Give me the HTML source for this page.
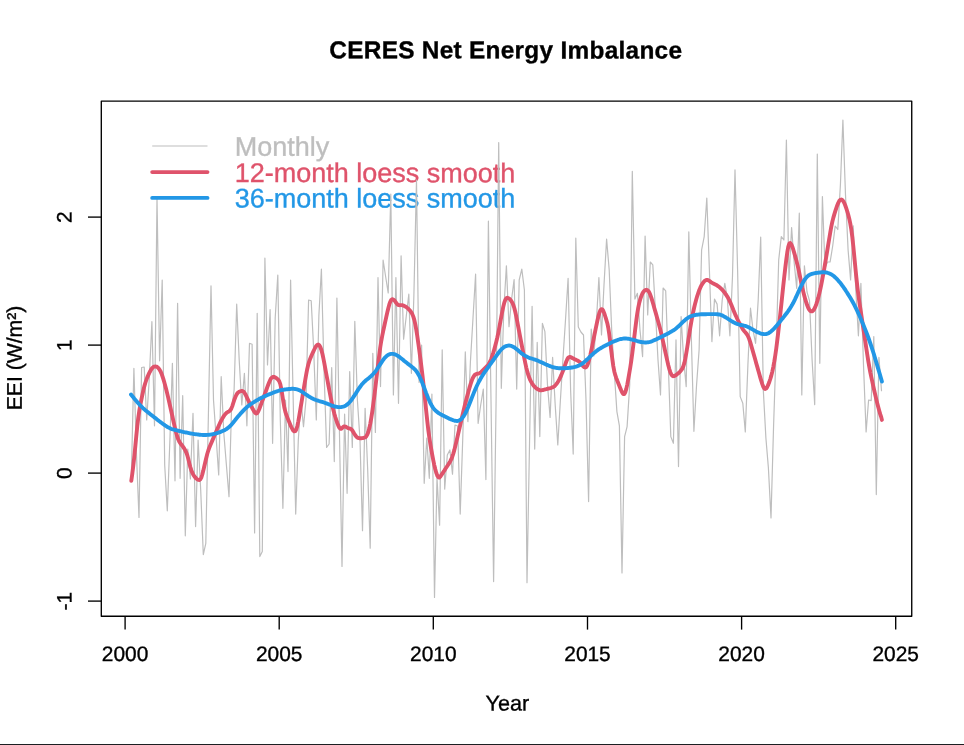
<!DOCTYPE html>
<html lang="en"><head><meta charset="utf-8"><title>CERES Net Energy Imbalance</title>
<style>
html,body{margin:0;padding:0;background:#fff;}
body{width:964px;height:745px;overflow:hidden;}
svg{display:block;will-change:transform;}
text{font-family:"Liberation Sans",Arial,Helvetica,sans-serif;fill:#000;stroke:#000;stroke-width:0.35px;}
.ax{font-size:20.9px;}
.ttl{font-size:24.4px;font-weight:bold;letter-spacing:0.28px;}
.lg{font-size:27.0px;}
</style></head><body>
<svg width="964" height="745" viewBox="0 0 964 745">
<rect x="0" y="0" width="964" height="745" fill="#fff"/>

<g id="legend">
<text class="lg" transform="translate(234.7,155.8) rotate(0.04)" text-anchor="start" style="fill:#bebebe;stroke:#bebebe">Monthly</text>
<text class="lg" transform="translate(234.7,182.0) rotate(0.04)" text-anchor="start" style="fill:#df536b;stroke:#df536b">12-month loess smooth</text>
<text class="lg" transform="translate(234.7,207.4) rotate(0.04)" text-anchor="start" style="fill:#2297e6;stroke:#2297e6">36-month loess smooth</text>
</g>
<path d="M131.3,478.0 L133.9,368.3 L136.5,455.0 L139.0,517.5 L141.6,367.5 L144.2,367.0 L146.7,420.0 L149.3,378.0 L151.9,321.7 L154.5,425.8 L157.0,198.0 L159.6,360.8 L162.2,280.0 L164.7,465.0 L167.3,510.8 L169.9,440.0 L172.4,363.3 L175.0,480.8 L177.6,303.3 L180.1,478.3 L182.7,395.7 L185.3,535.8 L187.8,449.0 L190.4,479.0 L193.0,413.3 L195.6,526.6 L198.1,440.0 L200.7,490.0 L203.3,554.6 L205.8,543.3 L208.4,415.0 L211.0,285.8 L213.5,400.0 L216.1,437.0 L218.7,475.0 L221.2,376.7 L223.8,433.0 L226.4,465.0 L229.0,496.7 L231.5,410.0 L234.1,390.0 L236.7,304.2 L239.2,360.0 L241.8,405.0 L244.4,373.3 L246.9,425.8 L249.5,343.3 L252.1,344.2 L254.6,533.0 L257.2,313.3 L259.8,556.6 L262.3,551.6 L264.9,258.0 L267.5,365.0 L270.1,309.5 L272.6,443.3 L275.2,318.0 L277.8,275.0 L280.3,420.0 L282.9,508.3 L285.5,400.0 L288.0,471.6 L290.6,280.0 L293.2,400.0 L295.7,514.1 L298.3,440.0 L300.9,400.0 L303.5,426.6 L306.0,400.0 L308.6,300.0 L311.2,300.8 L313.7,350.0 L316.3,420.0 L318.9,315.0 L321.4,269.2 L324.0,370.0 L326.6,447.5 L329.1,444.0 L331.7,367.5 L334.3,461.6 L336.9,298.0 L339.4,430.0 L342.0,566.5 L344.6,414.1 L347.1,493.3 L349.7,371.6 L352.3,447.5 L354.8,321.3 L357.4,400.0 L360.0,440.0 L362.5,530.7 L365.1,408.3 L367.7,470.0 L370.2,548.2 L372.8,353.3 L375.4,432.4 L378.0,277.5 L380.5,386.6 L383.1,260.0 L385.7,277.0 L388.2,293.0 L390.8,194.0 L393.4,395.0 L395.9,277.5 L398.5,403.3 L401.1,255.8 L403.6,339.2 L406.2,316.7 L408.8,294.2 L411.4,373.3 L413.9,295.0 L416.5,180.0 L419.1,382.5 L421.6,345.0 L424.2,483.3 L426.8,438.0 L429.3,478.3 L431.9,394.1 L434.5,597.4 L437.0,478.0 L439.6,525.2 L442.2,349.9 L444.7,489.1 L447.3,455.0 L449.9,450.0 L452.5,474.1 L455.0,425.0 L457.6,426.0 L460.2,514.1 L462.7,440.0 L465.3,351.9 L467.9,421.6 L470.4,362.0 L473.0,318.0 L475.6,274.1 L478.1,423.3 L480.7,405.0 L483.3,389.1 L485.9,479.6 L488.4,221.2 L491.0,400.0 L493.6,581.6 L496.1,400.0 L498.7,142.5 L501.3,388.3 L503.8,310.0 L506.4,265.8 L509.0,326.6 L511.5,300.0 L514.1,279.6 L516.7,389.1 L519.2,280.0 L521.8,269.1 L524.4,290.0 L527.0,582.7 L529.5,445.0 L532.1,306.3 L534.7,449.1 L537.2,342.4 L539.8,436.6 L542.4,323.3 L544.9,331.6 L547.5,385.0 L550.1,417.4 L552.6,357.4 L555.2,405.0 L557.8,444.9 L560.4,400.0 L562.9,360.0 L565.5,320.0 L568.1,278.3 L570.6,390.0 L573.2,454.1 L575.8,238.2 L578.3,327.0 L580.9,332.0 L583.5,335.0 L586.0,400.0 L588.6,501.6 L591.2,329.1 L593.8,356.0 L596.3,323.0 L598.9,277.5 L601.5,335.0 L604.0,285.0 L606.6,239.1 L609.2,270.0 L611.7,330.0 L614.3,372.0 L616.9,411.6 L619.4,425.8 L622.0,572.9 L624.6,436.6 L627.1,426.6 L629.7,385.0 L632.3,171.3 L634.9,299.1 L637.4,293.3 L640.0,330.0 L642.6,356.6 L645.1,236.1 L647.7,314.9 L650.3,262.0 L652.8,264.9 L655.4,310.0 L658.0,360.0 L660.5,395.0 L663.1,288.0 L665.7,290.8 L668.3,365.0 L670.8,436.6 L673.4,443.3 L676.0,339.9 L678.5,466.6 L681.1,316.6 L683.7,360.0 L686.2,386.6 L688.8,231.9 L691.4,340.0 L693.9,431.3 L696.5,386.0 L699.1,350.0 L701.6,250.0 L704.2,236.6 L706.8,198.0 L709.4,270.0 L711.9,341.6 L714.5,299.1 L717.1,304.1 L719.6,335.8 L722.2,300.0 L724.8,283.3 L727.3,298.0 L729.9,335.8 L732.5,276.0 L735.0,169.9 L737.6,270.0 L740.2,396.6 L742.8,403.3 L745.3,431.9 L747.9,365.0 L750.5,308.2 L753.0,330.0 L755.6,343.3 L758.2,300.0 L760.7,237.1 L763.3,390.0 L765.9,438.0 L768.4,468.0 L771.0,517.9 L773.6,425.0 L776.1,350.0 L778.7,260.0 L781.3,236.6 L783.9,240.0 L786.4,140.0 L789.0,279.9 L791.6,227.5 L794.1,262.0 L796.7,288.3 L799.3,213.2 L801.8,394.9 L804.4,265.8 L807.0,292.0 L809.5,300.7 L812.1,360.0 L814.7,404.6 L817.3,154.1 L819.8,363.3 L822.4,196.6 L825.0,268.0 L827.5,262.0 L830.1,262.0 L832.7,246.0 L835.2,226.0 L837.8,229.5 L840.4,185.0 L842.9,120.0 L845.5,195.0 L848.1,250.0 L850.6,279.9 L853.2,225.8 L855.8,290.0 L858.4,335.8 L860.9,283.3 L863.5,365.0 L866.1,431.9 L868.6,400.0 L871.2,400.7 L873.8,336.6 L876.3,494.6 L878.9,357.4 L881.5,390.7" fill="none" stroke="#bebebe" stroke-width="1.2" stroke-linejoin="round" stroke-linecap="round"/>
<line x1="152.2" y1="146" x2="207.5" y2="146" stroke="#bebebe" stroke-width="1.15"/>
<line x1="152.2" y1="172.1" x2="207.5" y2="172.1" stroke="#df536b" stroke-width="3.9" stroke-linecap="round"/>
<line x1="152.2" y1="197.9" x2="207.5" y2="197.9" stroke="#2297e6" stroke-width="3.9" stroke-linecap="round"/>
<path d="M131.3,480.8 L132.3,473.7 L133.3,465.7 L134.3,456.5 L135.3,446.5 L136.3,436.0 L137.3,426.0 L138.3,417.5 L139.3,410.7 L140.3,405.1 L141.3,400.0 L142.3,395.1 L143.3,390.5 L144.3,386.4 L145.3,383.0 L146.3,380.0 L147.3,377.4 L148.3,375.1 L149.3,372.9 L150.3,371.0 L151.3,369.3 L152.3,368.0 L153.3,367.1 L154.3,366.6 L155.3,366.5 L156.3,366.6 L157.3,367.1 L158.3,368.0 L159.3,369.2 L160.3,370.9 L161.3,373.1 L162.3,375.8 L163.3,378.9 L164.3,382.3 L165.3,386.0 L166.3,389.8 L167.3,393.9 L168.3,398.1 L169.3,402.5 L170.3,407.0 L171.3,411.5 L172.3,416.0 L173.3,420.6 L174.3,425.1 L175.3,429.4 L176.3,433.3 L177.3,436.8 L178.3,439.5 L179.3,441.6 L180.3,443.2 L181.3,444.5 L182.3,445.8 L183.3,447.1 L184.3,448.6 L185.3,450.4 L186.3,452.6 L187.3,455.3 L188.3,459.0 L189.3,463.1 L190.3,467.0 L191.3,470.2 L192.3,472.7 L193.3,474.7 L194.3,476.3 L195.3,477.5 L196.3,478.5 L197.3,479.3 L198.3,479.9 L199.3,480.0 L200.3,479.4 L201.3,477.6 L202.3,474.5 L203.3,470.6 L204.3,466.3 L205.3,462.0 L206.3,457.7 L207.3,453.8 L208.3,450.5 L209.3,447.7 L210.3,445.3 L211.3,442.9 L212.3,440.6 L213.3,438.3 L214.3,436.0 L215.3,433.7 L216.3,431.3 L217.3,429.0 L218.3,426.8 L219.3,424.5 L220.3,422.4 L221.3,420.4 L222.3,418.6 L223.3,416.9 L224.3,415.4 L225.3,414.1 L226.3,413.1 L227.3,412.3 L228.3,411.7 L229.3,411.2 L230.3,410.2 L231.3,408.6 L232.3,406.1 L233.3,403.0 L234.3,399.9 L235.3,397.2 L236.3,395.0 L237.3,393.4 L238.3,392.3 L239.3,391.7 L240.3,391.3 L241.3,391.0 L242.3,390.9 L243.3,391.4 L244.3,392.5 L245.3,394.2 L246.3,396.2 L247.3,398.3 L248.3,400.4 L249.3,402.5 L250.3,404.5 L251.3,406.4 L252.3,408.2 L253.3,410.0 L254.3,411.7 L255.3,413.0 L256.3,413.5 L257.3,413.0 L258.3,411.3 L259.3,409.0 L260.3,406.3 L261.3,403.6 L262.3,400.9 L263.3,398.2 L264.3,395.5 L265.3,392.8 L266.3,390.0 L267.3,387.2 L268.3,384.5 L269.3,382.0 L270.3,379.8 L271.3,378.1 L272.3,377.2 L273.3,376.8 L274.3,377.0 L275.3,377.5 L276.3,378.1 L277.3,378.9 L278.3,379.9 L279.3,381.4 L280.3,384.1 L281.3,388.8 L282.3,395.0 L283.3,401.5 L284.3,407.2 L285.3,411.6 L286.3,414.8 L287.3,417.4 L288.3,419.9 L289.3,422.3 L290.3,424.7 L291.3,427.0 L292.3,429.0 L293.3,430.6 L294.3,431.3 L295.3,431.1 L296.3,429.5 L297.3,426.2 L298.3,421.3 L299.3,415.6 L300.3,409.6 L301.3,403.6 L302.3,397.5 L303.3,391.5 L304.3,385.4 L305.3,379.5 L306.3,373.9 L307.3,368.7 L308.3,364.5 L309.3,361.1 L310.3,358.4 L311.3,356.0 L312.3,353.8 L313.3,351.6 L314.3,349.5 L315.3,347.5 L316.3,345.8 L317.3,344.8 L318.3,344.5 L319.3,345.3 L320.3,347.0 L321.3,349.7 L322.3,353.4 L323.3,358.0 L324.3,363.2 L325.3,368.6 L326.3,374.0 L327.3,379.4 L328.3,384.9 L329.3,390.2 L330.3,395.5 L331.3,400.7 L332.3,405.5 L333.3,409.8 L334.3,413.6 L335.3,417.0 L336.3,420.1 L337.3,423.0 L338.3,425.6 L339.3,427.7 L340.3,428.8 L341.3,428.7 L342.3,427.8 L343.3,426.8 L344.3,426.4 L345.3,426.6 L346.3,427.1 L347.3,427.7 L348.3,428.1 L349.3,428.4 L350.3,428.8 L351.3,429.3 L352.3,430.4 L353.3,432.0 L354.3,433.7 L355.3,435.3 L356.3,436.6 L357.3,437.5 L358.3,438.0 L359.3,438.2 L360.3,438.2 L361.3,438.2 L362.3,438.1 L363.3,438.0 L364.3,437.7 L365.3,437.3 L366.3,436.3 L367.3,434.6 L368.3,432.0 L369.3,428.3 L370.3,423.6 L371.3,417.9 L372.3,411.4 L373.3,404.1 L374.3,396.2 L375.3,387.9 L376.3,379.4 L377.3,371.1 L378.3,362.7 L379.3,354.5 L380.3,347.0 L381.3,340.8 L382.3,335.5 L383.3,330.7 L384.3,326.0 L385.3,321.4 L386.3,316.8 L387.3,312.4 L388.3,308.2 L389.3,304.4 L390.3,301.6 L391.3,299.8 L392.3,299.2 L393.3,299.5 L394.3,300.3 L395.3,301.6 L396.3,303.0 L397.3,304.2 L398.3,305.0 L399.3,305.2 L400.3,305.1 L401.3,305.1 L402.3,305.2 L403.3,305.5 L404.3,306.0 L405.3,306.5 L406.3,307.1 L407.3,307.9 L408.3,308.8 L409.3,309.8 L410.3,311.0 L411.3,312.4 L412.3,314.1 L413.3,316.6 L414.3,319.9 L415.3,324.4 L416.3,329.9 L417.3,336.3 L418.3,343.3 L419.3,350.6 L420.3,358.1 L421.3,365.8 L422.3,373.9 L423.3,382.8 L424.3,392.3 L425.3,402.1 L426.3,411.9 L427.3,421.3 L428.3,429.9 L429.3,437.3 L430.3,443.8 L431.3,449.7 L432.3,455.2 L433.3,460.3 L434.3,465.1 L435.3,469.3 L436.3,472.9 L437.3,475.7 L438.3,477.3 L439.3,477.5 L440.3,476.5 L441.3,475.1 L442.3,473.6 L443.3,472.1 L444.3,470.6 L445.3,469.0 L446.3,467.5 L447.3,466.0 L448.3,464.5 L449.3,462.9 L450.3,461.2 L451.3,459.2 L452.3,456.7 L453.3,453.6 L454.3,450.1 L455.3,446.1 L456.3,441.9 L457.3,437.7 L458.3,433.3 L459.3,429.0 L460.3,424.7 L461.3,420.3 L462.3,416.0 L463.3,411.7 L464.3,407.5 L465.3,403.5 L466.3,399.6 L467.3,395.8 L468.3,392.1 L469.3,388.5 L470.3,385.1 L471.3,382.0 L472.3,379.2 L473.3,377.1 L474.3,375.5 L475.3,374.5 L476.3,374.0 L477.3,373.7 L478.3,373.6 L479.3,373.3 L480.3,372.7 L481.3,371.9 L482.3,370.9 L483.3,369.9 L484.3,368.9 L485.3,367.9 L486.3,366.9 L487.3,365.9 L488.3,364.7 L489.3,363.1 L490.3,361.1 L491.3,358.6 L492.3,355.7 L493.3,352.6 L494.3,349.2 L495.3,345.6 L496.3,341.7 L497.3,337.5 L498.3,332.8 L499.3,327.7 L500.3,322.2 L501.3,316.7 L502.3,311.5 L503.3,306.6 L504.3,302.6 L505.3,299.8 L506.3,298.3 L507.3,297.8 L508.3,298.1 L509.3,298.7 L510.3,299.7 L511.3,301.0 L512.3,302.7 L513.3,304.9 L514.3,308.0 L515.3,312.0 L516.3,316.7 L517.3,321.8 L518.3,327.1 L519.3,332.4 L520.3,337.7 L521.3,342.9 L522.3,348.0 L523.3,353.1 L524.3,358.2 L525.3,363.1 L526.3,367.6 L527.3,371.6 L528.3,374.9 L529.3,377.8 L530.3,380.2 L531.3,382.1 L532.3,383.8 L533.3,385.2 L534.3,386.4 L535.3,387.4 L536.3,388.3 L537.3,389.0 L538.3,389.6 L539.3,390.1 L540.3,390.3 L541.3,390.4 L542.3,390.2 L543.3,390.0 L544.3,389.7 L545.3,389.4 L546.3,389.2 L547.3,388.9 L548.3,388.6 L549.3,388.3 L550.3,388.1 L551.3,387.8 L552.3,387.4 L553.3,386.9 L554.3,386.3 L555.3,385.3 L556.3,384.2 L557.3,382.8 L558.3,381.2 L559.3,379.4 L560.3,377.3 L561.3,375.1 L562.3,372.6 L563.3,370.0 L564.3,367.3 L565.3,364.4 L566.3,361.5 L567.3,359.2 L568.3,357.7 L569.3,357.0 L570.3,357.0 L571.3,357.4 L572.3,358.0 L573.3,358.6 L574.3,359.1 L575.3,359.5 L576.3,360.0 L577.3,360.4 L578.3,360.9 L579.3,361.7 L580.3,362.7 L581.3,364.0 L582.3,365.3 L583.3,366.4 L584.3,367.2 L585.3,367.5 L586.3,367.0 L587.3,365.4 L588.3,362.7 L589.3,359.2 L590.3,355.1 L591.3,350.5 L592.3,345.6 L593.3,340.6 L594.3,335.6 L595.3,330.7 L596.3,325.8 L597.3,321.1 L598.3,316.7 L599.3,313.0 L600.3,310.4 L601.3,309.1 L602.3,309.3 L603.3,310.9 L604.3,313.4 L605.3,316.5 L606.3,319.7 L607.3,323.2 L608.3,328.0 L609.3,334.5 L610.3,342.4 L611.3,350.9 L612.3,359.1 L613.3,366.1 L614.3,371.4 L615.3,375.2 L616.3,378.1 L617.3,380.8 L618.3,383.3 L619.3,385.8 L620.3,388.2 L621.3,390.6 L622.3,392.6 L623.3,394.0 L624.3,394.0 L625.3,392.3 L626.3,388.9 L627.3,384.3 L628.3,378.9 L629.3,373.2 L630.3,367.2 L631.3,360.6 L632.3,353.3 L633.3,345.3 L634.3,336.9 L635.3,328.5 L636.3,320.5 L637.3,313.3 L638.3,307.4 L639.3,302.7 L640.3,299.1 L641.3,296.2 L642.3,293.8 L643.3,292.0 L644.3,290.8 L645.3,290.1 L646.3,289.8 L647.3,290.1 L648.3,290.9 L649.3,292.5 L650.3,294.8 L651.3,297.6 L652.3,300.9 L653.3,304.3 L654.3,307.9 L655.3,311.4 L656.3,314.9 L657.3,318.5 L658.3,322.0 L659.3,325.7 L660.3,329.6 L661.3,333.8 L662.3,338.1 L663.3,342.6 L664.3,347.2 L665.3,351.8 L666.3,356.4 L667.3,360.9 L668.3,365.2 L669.3,369.0 L670.3,372.2 L671.3,374.4 L672.3,375.7 L673.3,376.2 L674.3,376.0 L675.3,375.5 L676.3,374.9 L677.3,374.1 L678.3,373.3 L679.3,372.3 L680.3,371.3 L681.3,370.1 L682.3,368.6 L683.3,366.4 L684.3,363.1 L685.3,358.7 L686.3,353.2 L687.3,347.0 L688.3,340.5 L689.3,334.0 L690.3,327.7 L691.3,321.8 L692.3,316.4 L693.3,311.5 L694.3,307.0 L695.3,302.9 L696.3,299.2 L697.3,295.8 L698.3,292.8 L699.3,290.0 L700.3,287.7 L701.3,285.6 L702.3,283.9 L703.3,282.5 L704.3,281.3 L705.3,280.4 L706.3,279.9 L707.3,279.9 L708.3,280.3 L709.3,280.9 L710.3,281.6 L711.3,282.3 L712.3,282.9 L713.3,283.4 L714.3,283.9 L715.3,284.4 L716.3,284.9 L717.3,285.6 L718.3,286.3 L719.3,287.1 L720.3,287.9 L721.3,288.9 L722.3,289.9 L723.3,291.0 L724.3,292.3 L725.3,293.6 L726.3,295.0 L727.3,296.6 L728.3,298.3 L729.3,300.2 L730.3,302.4 L731.3,304.7 L732.3,307.2 L733.3,309.8 L734.3,312.2 L735.3,314.6 L736.3,316.8 L737.3,319.0 L738.3,321.0 L739.3,323.0 L740.3,324.8 L741.3,326.6 L742.3,328.3 L743.3,329.8 L744.3,331.2 L745.3,332.3 L746.3,333.5 L747.3,334.9 L748.3,336.8 L749.3,339.3 L750.3,342.4 L751.3,345.8 L752.3,349.3 L753.3,352.8 L754.3,356.3 L755.3,359.8 L756.3,363.4 L757.3,366.9 L758.3,370.5 L759.3,374.1 L760.3,377.6 L761.3,380.9 L762.3,384.1 L763.3,386.7 L764.3,388.5 L765.3,389.0 L766.3,388.3 L767.3,386.8 L768.3,384.6 L769.3,382.0 L770.3,379.0 L771.3,375.6 L772.3,371.6 L773.3,366.8 L774.3,361.4 L775.3,355.2 L776.3,348.2 L777.3,340.3 L778.3,331.9 L779.3,323.1 L780.3,314.0 L781.3,304.7 L782.3,295.0 L783.3,285.5 L784.3,276.4 L785.3,267.7 L786.3,259.5 L787.3,252.2 L788.3,246.6 L789.3,243.6 L790.3,243.1 L791.3,244.4 L792.3,246.7 L793.3,249.7 L794.3,253.1 L795.3,256.6 L796.3,260.3 L797.3,264.2 L798.3,268.4 L799.3,273.0 L800.3,278.0 L801.3,283.0 L802.3,287.7 L803.3,291.9 L804.3,295.8 L805.3,299.4 L806.3,302.7 L807.3,305.6 L808.3,308.0 L809.3,309.8 L810.3,311.0 L811.3,311.4 L812.3,311.3 L813.3,310.4 L814.3,309.0 L815.3,306.9 L816.3,304.2 L817.3,301.1 L818.3,297.6 L819.3,293.6 L820.3,289.3 L821.3,284.5 L822.3,279.4 L823.3,274.0 L824.3,268.3 L825.3,262.4 L826.3,256.5 L827.3,250.4 L828.3,244.3 L829.3,238.2 L830.3,232.2 L831.3,226.7 L832.3,221.9 L833.3,217.9 L834.3,214.4 L835.3,211.2 L836.3,208.1 L837.3,205.2 L838.3,202.8 L839.3,200.9 L840.3,199.8 L841.3,199.5 L842.3,200.0 L843.3,201.2 L844.3,203.1 L845.3,205.5 L846.3,208.4 L847.3,211.5 L848.3,215.0 L849.3,218.9 L850.3,223.6 L851.3,229.5 L852.3,237.1 L853.3,246.2 L854.3,256.4 L855.3,266.9 L856.3,277.0 L857.3,286.3 L858.3,294.4 L859.3,301.6 L860.3,308.3 L861.3,314.9 L862.3,321.6 L863.3,328.2 L864.3,334.9 L865.3,341.6 L866.3,348.2 L867.3,354.8 L868.3,361.1 L869.3,366.9 L870.3,372.3 L871.3,377.1 L872.3,381.7 L873.3,386.3 L874.3,390.7 L875.3,395.1 L876.3,399.4 L877.3,403.5 L878.3,407.3 L879.3,411.0 L880.3,414.4 L881.3,417.4 L881.9,419.9" fill="none" stroke="#df536b" stroke-width="3.9" stroke-linejoin="round" stroke-linecap="round"/>
<path d="M131.0,394.5 L132.0,395.7 L133.0,396.9 L134.0,398.2 L135.0,399.4 L136.0,400.6 L137.0,401.7 L138.0,402.9 L139.0,404.0 L140.0,405.1 L141.0,406.1 L142.0,407.1 L143.0,408.1 L144.0,409.0 L145.0,409.9 L146.0,410.7 L147.0,411.5 L148.0,412.4 L149.0,413.1 L150.0,413.9 L151.0,414.7 L152.0,415.5 L153.0,416.3 L154.0,417.1 L155.0,417.8 L156.0,418.6 L157.0,419.4 L158.0,420.2 L159.0,421.0 L160.0,421.7 L161.0,422.5 L162.0,423.2 L163.0,424.0 L164.0,424.7 L165.0,425.4 L166.0,426.0 L167.0,426.7 L168.0,427.2 L169.0,427.8 L170.0,428.2 L171.0,428.7 L172.0,429.1 L173.0,429.4 L174.0,429.7 L175.0,430.0 L176.0,430.2 L177.0,430.5 L178.0,430.7 L179.0,431.0 L180.0,431.2 L181.0,431.4 L182.0,431.6 L183.0,431.9 L184.0,432.1 L185.0,432.3 L186.0,432.5 L187.0,432.7 L188.0,432.9 L189.0,433.1 L190.0,433.3 L191.0,433.5 L192.0,433.6 L193.0,433.8 L194.0,434.0 L195.0,434.1 L196.0,434.3 L197.0,434.4 L198.0,434.5 L199.0,434.7 L200.0,434.8 L201.0,434.9 L202.0,434.9 L203.0,435.0 L204.0,435.0 L205.0,435.0 L206.0,435.0 L207.0,434.9 L208.0,434.9 L209.0,434.8 L210.0,434.6 L211.0,434.5 L212.0,434.3 L213.0,434.1 L214.0,433.9 L215.0,433.7 L216.0,433.4 L217.0,433.1 L218.0,432.8 L219.0,432.4 L220.0,432.1 L221.0,431.7 L222.0,431.3 L223.0,430.8 L224.0,430.4 L225.0,429.9 L226.0,429.3 L227.0,428.6 L228.0,427.9 L229.0,427.1 L230.0,426.1 L231.0,425.1 L232.0,424.0 L233.0,422.8 L234.0,421.5 L235.0,420.3 L236.0,419.0 L237.0,417.8 L238.0,416.6 L239.0,415.4 L240.0,414.3 L241.0,413.1 L242.0,412.0 L243.0,411.0 L244.0,409.9 L245.0,408.9 L246.0,408.0 L247.0,407.1 L248.0,406.3 L249.0,405.5 L250.0,404.7 L251.0,404.0 L252.0,403.3 L253.0,402.7 L254.0,402.1 L255.0,401.4 L256.0,400.8 L257.0,400.3 L258.0,399.7 L259.0,399.1 L260.0,398.6 L261.0,398.1 L262.0,397.5 L263.0,397.1 L264.0,396.6 L265.0,396.1 L266.0,395.7 L267.0,395.3 L268.0,394.8 L269.0,394.4 L270.0,394.0 L271.0,393.6 L272.0,393.2 L273.0,392.8 L274.0,392.4 L275.0,392.0 L276.0,391.7 L277.0,391.3 L278.0,391.0 L279.0,390.7 L280.0,390.5 L281.0,390.2 L282.0,390.0 L283.0,389.8 L284.0,389.7 L285.0,389.5 L286.0,389.4 L287.0,389.3 L288.0,389.2 L289.0,389.0 L290.0,389.0 L291.0,388.9 L292.0,388.8 L293.0,388.8 L294.0,388.9 L295.0,389.0 L296.0,389.1 L297.0,389.4 L298.0,389.7 L299.0,390.1 L300.0,390.6 L301.0,391.2 L302.0,391.8 L303.0,392.5 L304.0,393.2 L305.0,393.8 L306.0,394.5 L307.0,395.2 L308.0,395.9 L309.0,396.5 L310.0,397.1 L311.0,397.7 L312.0,398.2 L313.0,398.7 L314.0,399.2 L315.0,399.6 L316.0,400.0 L317.0,400.3 L318.0,400.6 L319.0,401.0 L320.0,401.3 L321.0,401.6 L322.0,401.9 L323.0,402.2 L324.0,402.5 L325.0,402.9 L326.0,403.2 L327.0,403.6 L328.0,404.0 L329.0,404.4 L330.0,404.8 L331.0,405.2 L332.0,405.6 L333.0,405.9 L334.0,406.3 L335.0,406.5 L336.0,406.8 L337.0,406.9 L338.0,407.1 L339.0,407.1 L340.0,407.1 L341.0,407.1 L342.0,406.9 L343.0,406.7 L344.0,406.4 L345.0,406.0 L346.0,405.4 L347.0,404.7 L348.0,403.8 L349.0,402.8 L350.0,401.7 L351.0,400.5 L352.0,399.1 L353.0,397.7 L354.0,396.2 L355.0,394.6 L356.0,393.1 L357.0,391.5 L358.0,389.9 L359.0,388.4 L360.0,387.0 L361.0,385.6 L362.0,384.3 L363.0,383.2 L364.0,382.1 L365.0,381.2 L366.0,380.3 L367.0,379.5 L368.0,378.7 L369.0,377.9 L370.0,377.1 L371.0,376.2 L372.0,375.3 L373.0,374.2 L374.0,373.1 L375.0,371.9 L376.0,370.6 L377.0,369.2 L378.0,367.7 L379.0,366.2 L380.0,364.7 L381.0,363.1 L382.0,361.6 L383.0,360.2 L384.0,358.8 L385.0,357.6 L386.0,356.6 L387.0,355.7 L388.0,355.0 L389.0,354.5 L390.0,354.1 L391.0,353.9 L392.0,353.9 L393.0,353.9 L394.0,354.1 L395.0,354.4 L396.0,354.8 L397.0,355.4 L398.0,356.0 L399.0,356.7 L400.0,357.4 L401.0,358.2 L402.0,359.0 L403.0,359.8 L404.0,360.7 L405.0,361.5 L406.0,362.3 L407.0,363.1 L408.0,363.9 L409.0,364.6 L410.0,365.4 L411.0,366.1 L412.0,366.9 L413.0,367.7 L414.0,368.6 L415.0,369.6 L416.0,370.8 L417.0,372.1 L418.0,373.7 L419.0,375.5 L420.0,377.5 L421.0,379.7 L422.0,382.1 L423.0,384.7 L424.0,387.3 L425.0,389.9 L426.0,392.6 L427.0,395.1 L428.0,397.7 L429.0,400.0 L430.0,402.3 L431.0,404.3 L432.0,406.1 L433.0,407.6 L434.0,408.9 L435.0,410.1 L436.0,411.0 L437.0,411.9 L438.0,412.6 L439.0,413.3 L440.0,413.9 L441.0,414.5 L442.0,415.0 L443.0,415.6 L444.0,416.1 L445.0,416.6 L446.0,417.1 L447.0,417.6 L448.0,418.1 L449.0,418.6 L450.0,419.0 L451.0,419.4 L452.0,419.8 L453.0,420.2 L454.0,420.5 L455.0,420.8 L456.0,420.9 L457.0,421.0 L458.0,420.8 L459.0,420.5 L460.0,420.0 L461.0,419.3 L462.0,418.3 L463.0,417.1 L464.0,415.6 L465.0,413.9 L466.0,412.0 L467.0,409.8 L468.0,407.5 L469.0,405.0 L470.0,402.5 L471.0,400.0 L472.0,397.4 L473.0,394.9 L474.0,392.4 L475.0,390.0 L476.0,387.7 L477.0,385.5 L478.0,383.5 L479.0,381.5 L480.0,379.7 L481.0,377.9 L482.0,376.3 L483.0,374.7 L484.0,373.2 L485.0,371.7 L486.0,370.3 L487.0,368.9 L488.0,367.5 L489.0,366.1 L490.0,364.7 L491.0,363.3 L492.0,361.9 L493.0,360.5 L494.0,359.1 L495.0,357.7 L496.0,356.3 L497.0,354.9 L498.0,353.5 L499.0,352.2 L500.0,350.9 L501.0,349.8 L502.0,348.7 L503.0,347.9 L504.0,347.1 L505.0,346.5 L506.0,346.1 L507.0,345.8 L508.0,345.6 L509.0,345.5 L510.0,345.6 L511.0,345.8 L512.0,346.2 L513.0,346.7 L514.0,347.2 L515.0,347.9 L516.0,348.7 L517.0,349.5 L518.0,350.3 L519.0,351.2 L520.0,352.0 L521.0,352.9 L522.0,353.7 L523.0,354.4 L524.0,355.1 L525.0,355.7 L526.0,356.3 L527.0,356.8 L528.0,357.3 L529.0,357.7 L530.0,358.1 L531.0,358.4 L532.0,358.7 L533.0,359.0 L534.0,359.3 L535.0,359.6 L536.0,360.0 L537.0,360.4 L538.0,360.8 L539.0,361.2 L540.0,361.7 L541.0,362.1 L542.0,362.6 L543.0,363.0 L544.0,363.5 L545.0,364.0 L546.0,364.4 L547.0,364.9 L548.0,365.3 L549.0,365.7 L550.0,366.1 L551.0,366.5 L552.0,366.9 L553.0,367.2 L554.0,367.5 L555.0,367.7 L556.0,367.9 L557.0,368.0 L558.0,368.1 L559.0,368.2 L560.0,368.2 L561.0,368.3 L562.0,368.3 L563.0,368.2 L564.0,368.2 L565.0,368.2 L566.0,368.1 L567.0,368.1 L568.0,368.0 L569.0,367.9 L570.0,367.8 L571.0,367.7 L572.0,367.5 L573.0,367.3 L574.0,367.1 L575.0,366.9 L576.0,366.6 L577.0,366.3 L578.0,365.9 L579.0,365.5 L580.0,365.0 L581.0,364.4 L582.0,363.8 L583.0,363.1 L584.0,362.3 L585.0,361.4 L586.0,360.5 L587.0,359.5 L588.0,358.6 L589.0,357.6 L590.0,356.7 L591.0,355.7 L592.0,354.8 L593.0,353.9 L594.0,353.0 L595.0,352.2 L596.0,351.4 L597.0,350.6 L598.0,349.9 L599.0,349.2 L600.0,348.6 L601.0,348.0 L602.0,347.4 L603.0,346.8 L604.0,346.3 L605.0,345.7 L606.0,345.2 L607.0,344.7 L608.0,344.2 L609.0,343.7 L610.0,343.2 L611.0,342.7 L612.0,342.3 L613.0,341.8 L614.0,341.4 L615.0,341.0 L616.0,340.6 L617.0,340.2 L618.0,339.8 L619.0,339.5 L620.0,339.2 L621.0,339.0 L622.0,338.8 L623.0,338.6 L624.0,338.5 L625.0,338.5 L626.0,338.5 L627.0,338.6 L628.0,338.7 L629.0,338.9 L630.0,339.1 L631.0,339.3 L632.0,339.6 L633.0,339.9 L634.0,340.1 L635.0,340.4 L636.0,340.7 L637.0,341.0 L638.0,341.3 L639.0,341.5 L640.0,341.8 L641.0,342.0 L642.0,342.2 L643.0,342.3 L644.0,342.4 L645.0,342.5 L646.0,342.5 L647.0,342.4 L648.0,342.3 L649.0,342.1 L650.0,341.9 L651.0,341.6 L652.0,341.2 L653.0,340.8 L654.0,340.3 L655.0,339.9 L656.0,339.4 L657.0,338.9 L658.0,338.4 L659.0,337.9 L660.0,337.4 L661.0,336.9 L662.0,336.4 L663.0,335.9 L664.0,335.4 L665.0,334.9 L666.0,334.4 L667.0,333.9 L668.0,333.4 L669.0,332.9 L670.0,332.3 L671.0,331.8 L672.0,331.2 L673.0,330.6 L674.0,330.0 L675.0,329.3 L676.0,328.5 L677.0,327.6 L678.0,326.8 L679.0,325.8 L680.0,324.9 L681.0,323.9 L682.0,322.9 L683.0,321.9 L684.0,321.0 L685.0,320.1 L686.0,319.2 L687.0,318.5 L688.0,317.8 L689.0,317.2 L690.0,316.6 L691.0,316.2 L692.0,315.8 L693.0,315.5 L694.0,315.3 L695.0,315.0 L696.0,314.8 L697.0,314.7 L698.0,314.6 L699.0,314.5 L700.0,314.4 L701.0,314.3 L702.0,314.3 L703.0,314.2 L704.0,314.2 L705.0,314.2 L706.0,314.2 L707.0,314.1 L708.0,314.1 L709.0,314.1 L710.0,314.1 L711.0,314.1 L712.0,314.1 L713.0,314.1 L714.0,314.1 L715.0,314.1 L716.0,314.1 L717.0,314.2 L718.0,314.3 L719.0,314.5 L720.0,314.7 L721.0,315.0 L722.0,315.4 L723.0,315.8 L724.0,316.4 L725.0,316.9 L726.0,317.6 L727.0,318.2 L728.0,318.8 L729.0,319.5 L730.0,320.2 L731.0,320.8 L732.0,321.4 L733.0,322.0 L734.0,322.5 L735.0,323.0 L736.0,323.5 L737.0,323.9 L738.0,324.2 L739.0,324.5 L740.0,324.8 L741.0,325.0 L742.0,325.2 L743.0,325.4 L744.0,325.7 L745.0,325.9 L746.0,326.2 L747.0,326.5 L748.0,327.0 L749.0,327.4 L750.0,328.0 L751.0,328.5 L752.0,329.1 L753.0,329.7 L754.0,330.3 L755.0,330.8 L756.0,331.4 L757.0,331.9 L758.0,332.4 L759.0,332.8 L760.0,333.2 L761.0,333.6 L762.0,333.9 L763.0,334.0 L764.0,334.1 L765.0,334.1 L766.0,334.0 L767.0,333.8 L768.0,333.4 L769.0,332.9 L770.0,332.2 L771.0,331.4 L772.0,330.6 L773.0,329.6 L774.0,328.6 L775.0,327.5 L776.0,326.4 L777.0,325.2 L778.0,324.0 L779.0,322.8 L780.0,321.6 L781.0,320.3 L782.0,319.1 L783.0,317.9 L784.0,316.6 L785.0,315.3 L786.0,314.0 L787.0,312.7 L788.0,311.4 L789.0,309.9 L790.0,308.4 L791.0,306.8 L792.0,305.1 L793.0,303.3 L794.0,301.3 L795.0,299.3 L796.0,297.1 L797.0,295.0 L798.0,292.8 L799.0,290.6 L800.0,288.4 L801.0,286.3 L802.0,284.3 L803.0,282.4 L804.0,280.7 L805.0,279.2 L806.0,277.9 L807.0,276.8 L808.0,275.9 L809.0,275.2 L810.0,274.6 L811.0,274.2 L812.0,273.9 L813.0,273.6 L814.0,273.4 L815.0,273.2 L816.0,273.0 L817.0,272.9 L818.0,272.7 L819.0,272.6 L820.0,272.5 L821.0,272.4 L822.0,272.3 L823.0,272.3 L824.0,272.3 L825.0,272.4 L826.0,272.5 L827.0,272.7 L828.0,273.0 L829.0,273.3 L830.0,273.7 L831.0,274.2 L832.0,274.8 L833.0,275.5 L834.0,276.3 L835.0,277.2 L836.0,278.1 L837.0,279.1 L838.0,280.2 L839.0,281.4 L840.0,282.6 L841.0,283.8 L842.0,285.2 L843.0,286.5 L844.0,288.0 L845.0,289.4 L846.0,291.0 L847.0,292.5 L848.0,294.1 L849.0,295.7 L850.0,297.3 L851.0,299.0 L852.0,300.7 L853.0,302.5 L854.0,304.4 L855.0,306.3 L856.0,308.3 L857.0,310.4 L858.0,312.6 L859.0,314.8 L860.0,317.0 L861.0,319.3 L862.0,321.7 L863.0,324.0 L864.0,326.5 L865.0,328.9 L866.0,331.5 L867.0,334.0 L868.0,336.7 L869.0,339.5 L870.0,342.3 L871.0,345.3 L872.0,348.3 L873.0,351.5 L874.0,354.7 L875.0,358.0 L876.0,361.4 L877.0,364.7 L878.0,368.1 L879.0,371.5 L880.0,374.9 L881.0,378.2 L881.9,381.6" fill="none" stroke="#2297e6" stroke-width="3.9" stroke-linejoin="round" stroke-linecap="round"/>
<rect x="101.3" y="101.1" width="810.44" height="515.16" fill="none" stroke="#000" stroke-width="1.35" stroke-linejoin="round"/>
<line x1="125.1" y1="616.26" x2="125.1" y2="629.6" stroke="#000" stroke-width="1.35"/>
<text class="ax" transform="translate(125.1,661.0) rotate(0.04)" text-anchor="middle">2000</text>
<line x1="279.2" y1="616.26" x2="279.2" y2="629.6" stroke="#000" stroke-width="1.35"/>
<text class="ax" transform="translate(279.2,661.0) rotate(0.04)" text-anchor="middle">2005</text>
<line x1="433.3" y1="616.26" x2="433.3" y2="629.6" stroke="#000" stroke-width="1.35"/>
<text class="ax" transform="translate(433.3,661.0) rotate(0.04)" text-anchor="middle">2010</text>
<line x1="587.5" y1="616.26" x2="587.5" y2="629.6" stroke="#000" stroke-width="1.35"/>
<text class="ax" transform="translate(587.5,661.0) rotate(0.04)" text-anchor="middle">2015</text>
<line x1="741.6" y1="616.26" x2="741.6" y2="629.6" stroke="#000" stroke-width="1.35"/>
<text class="ax" transform="translate(741.6,661.0) rotate(0.04)" text-anchor="middle">2020</text>
<line x1="895.7" y1="616.26" x2="895.7" y2="629.6" stroke="#000" stroke-width="1.35"/>
<text class="ax" transform="translate(895.7,661.0) rotate(0.04)" text-anchor="middle">2025</text>
<line x1="88.0" y1="601.1" x2="101.3" y2="601.1" stroke="#000" stroke-width="1.35"/>
<text class="ax" transform="translate(71.4,601.1) rotate(-90.04)" text-anchor="middle">-1</text>
<line x1="88.0" y1="473.1" x2="101.3" y2="473.1" stroke="#000" stroke-width="1.35"/>
<text class="ax" transform="translate(71.4,473.1) rotate(-90.04)" text-anchor="middle">0</text>
<line x1="88.0" y1="345.1" x2="101.3" y2="345.1" stroke="#000" stroke-width="1.35"/>
<text class="ax" transform="translate(71.4,345.1) rotate(-90.04)" text-anchor="middle">1</text>
<line x1="88.0" y1="217.1" x2="101.3" y2="217.1" stroke="#000" stroke-width="1.35"/>
<text class="ax" transform="translate(71.4,217.1) rotate(-90.04)" text-anchor="middle">2</text>
<text class="ttl" transform="translate(505.8,58.35) rotate(0.04)" text-anchor="middle">CERES Net Energy Imbalance</text>
<text class="ax" transform="translate(507.3,710.6) rotate(0.04)" text-anchor="middle" style="font-size:21.6px">Year</text>
<text class="ax" transform="translate(21.8,358) rotate(-90.04)" text-anchor="middle" style="font-size:21.2px">EEI (W/m²)</text>
<rect x="0" y="744" width="964" height="1" fill="#1c1f22"/>
</svg>
</body></html>
